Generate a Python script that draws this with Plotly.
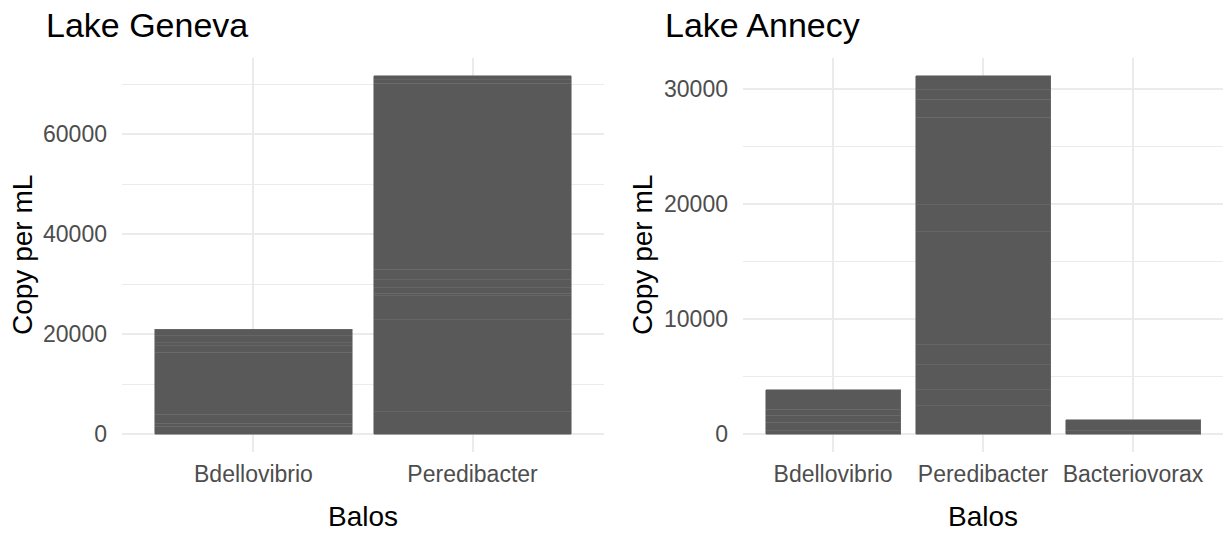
import plotly.graph_objects as go

# ---- data (stacked segments per bar, bottom to top) ----
geneva_cats = ["Bdellovibrio", "Peredibacter"]
geneva_bdellovibrio = [1520, 680, 1800, 12400, 1260, 660, 1340, 1340]
geneva_peredibacter = [4520, 18340, 4800, 540, 1120, 1540, 2140, 37200, 660, 800]

annecy_cats = ["Bdellovibrio", "Peredibacter", "Bacteriovorax"]
annecy_bdellovibrio = [287, 722, 643, 522, 1678]
annecy_peredibacter = [2487, 1365, 2174, 1740, 9852, 2322, 7626, 1566, 809, 1217]
annecy_bacteriovorax = [287, 957]

geneva_ticks = [0, 20000, 40000, 60000]
geneva_minor = [10000, 30000, 50000, 70000]
annecy_ticks = [0, 10000, 20000, 30000]
annecy_minor = [5000, 15000, 25000]

W, H = 1223, 535
FONT = "Liberation Sans, Arial, sans-serif"
BAR = "#595959"
EDGE = "#6e6e6e"
GRID = "#ebebeb"


def px_x(x):
    return x / W


def px_y(y):
    return 1 - y / H


fig = go.Figure()

panels = [
    ("x", "y", geneva_cats, [geneva_bdellovibrio, geneva_peredibacter]),
    ("x2", "y2", annecy_cats, [annecy_bdellovibrio, annecy_peredibacter, annecy_bacteriovorax]),
]
for xa, ya, cats, stacks in panels:
    for cat, segs in zip(cats, stacks):
        for v in segs:
            fig.add_trace(go.Bar(
                x=[cat], y=[v], xaxis=xa, yaxis=ya, width=0.9,
                marker=dict(color=BAR, line=dict(color=EDGE, width=0.6)),
                showlegend=False, hoverinfo="x+y",
            ))

# plot areas in pixels
L1, R1 = 122, 604
L2, R2 = 743, 1223
T, B = 58, 452

gmax = sum(geneva_peredibacter)
amax = sum(annecy_peredibacter)

tickfont = dict(family=FONT, size=23, color="#4d4d4d")

common_x = dict(type="category", showgrid=True, gridcolor=GRID, gridwidth=1.5,
                showline=False, zeroline=False, ticks="", tickfont=tickfont,
                ticklabelstandoff=6)
common_y = dict(showgrid=True, gridcolor=GRID, gridwidth=1.5, showline=False,
                zeroline=False, ticks="", tickfont=tickfont, ticklabelstandoff=14,
                tickformat="d")

fig.update_layout(
    width=W, height=H, autosize=False,
    margin=dict(l=0, r=0, t=0, b=0),
    paper_bgcolor="white", plot_bgcolor="white",
    barmode="stack", bargap=0.1,
    xaxis=dict(common_x, domain=[px_x(L1), px_x(R1)], anchor="y",
               categoryorder="array", categoryarray=geneva_cats,
               range=[-0.6, len(geneva_cats) - 0.4]),
    yaxis=dict(common_y, domain=[px_y(B), px_y(T)], anchor="x",
               range=[-0.05 * gmax, 1.05 * gmax], tickvals=geneva_ticks,
               minor=dict(tickvals=geneva_minor, showgrid=True, gridcolor=GRID, gridwidth=0.8)),
    xaxis2=dict(common_x, domain=[px_x(L2), px_x(R2)], anchor="y2",
                categoryorder="array", categoryarray=annecy_cats,
                range=[-0.6, len(annecy_cats) - 0.4]),
    yaxis2=dict(common_y, domain=[px_y(B), px_y(T)], anchor="x2",
                range=[-0.05 * amax, 1.05 * amax], tickvals=annecy_ticks,
                minor=dict(tickvals=annecy_minor, showgrid=True, gridcolor=GRID, gridwidth=0.8)),
)

ann = []
# panel titles
ann.append(dict(text="Lake Geneva", x=px_x(44), y=px_y(25), xref="paper", yref="paper",
                xanchor="left", yanchor="middle", showarrow=False,
                font=dict(family=FONT, size=34, color="black")))
ann.append(dict(text="Lake Annecy", x=px_x(663), y=px_y(25), xref="paper", yref="paper",
                xanchor="left", yanchor="middle", showarrow=False,
                font=dict(family=FONT, size=34, color="black")))
# axis titles
for cx in [(L1 + R1) / 2, (L2 + R2) / 2]:
    ann.append(dict(text="Balos", x=px_x(cx), y=px_y(516), xref="paper", yref="paper",
                    xanchor="center", yanchor="middle", showarrow=False,
                    font=dict(family=FONT, size=28, color="black")))
for cx in [23, 643]:
    ann.append(dict(text="Copy per mL", x=px_x(cx), y=px_y((T + B) / 2), xref="paper",
                    yref="paper", xanchor="center", yanchor="middle", showarrow=False,
                    textangle=-90, font=dict(family=FONT, size=28, color="black")))
fig.update_layout(annotations=ann)

fig.write_html("out.html", config={"displayModeBar": False},
               post_script="document.body.style.margin='0';")
